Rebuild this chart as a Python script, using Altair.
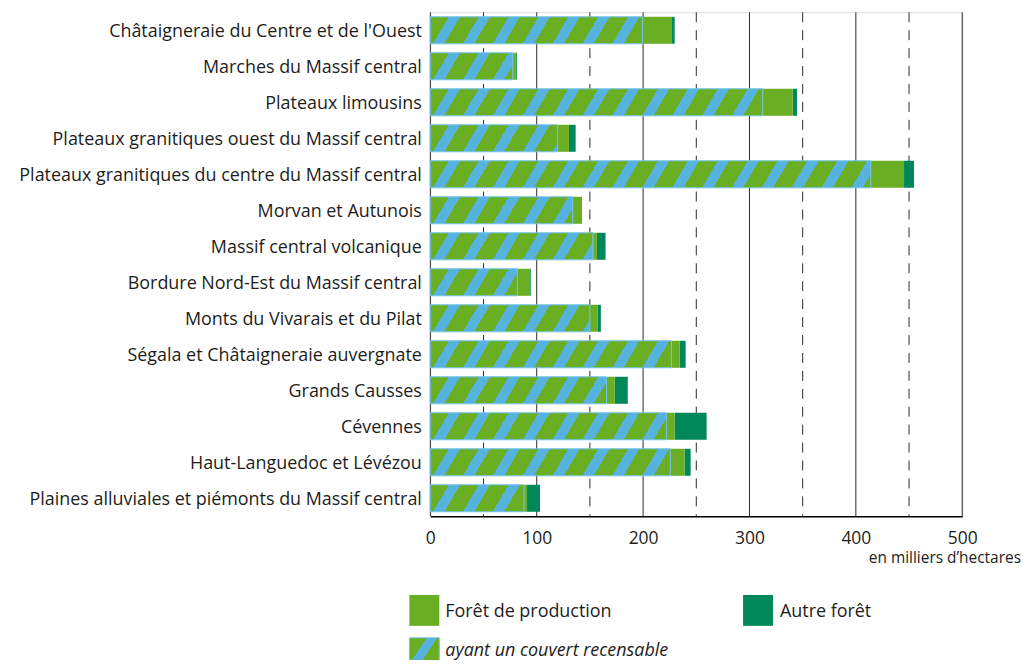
import altair as alt
import pandas as pd

regions = [
    "Châtaigneraie du Centre et de l'Ouest",
    "Marches du Massif central",
    "Plateaux limousins",
    "Plateaux granitiques ouest du Massif central",
    "Plateaux granitiques du centre du Massif central",
    "Morvan et Autunois",
    "Massif central volcanique",
    "Bordure Nord-Est du Massif central",
    "Monts du Vivarais et du Pilat",
    "Ségala et Châtaigneraie auvergnate",
    "Grands Causses",
    "Cévennes",
    "Haut-Languedoc et Lévézou",
    "Plaines alluviales et piémonts du Massif central",
]
# thousands of hectares
couvert_recensable = [199.4, 77.5, 312.5, 119.7, 414.0, 133.8, 152.8, 81.8, 150.0, 226.6, 165.6, 221.9, 225.6, 88.1]
foret_production = [227.2, 80.0, 340.6, 130.3, 445.3, 141.8, 156.6, 93.7, 157.5, 234.4, 173.4, 229.7, 239.0, 90.9]
autre_foret = [2.5, 1.3, 4.1, 6.3, 9.4, 0.7, 8.1, 0.7, 2.8, 5.6, 12.2, 30.0, 5.7, 12.2]

solid_grid = [0, 100, 200, 300, 400, 500]
dashed_grid = [50, 150, 250, 350, 450]
tick_values = [0, 100, 200, 300, 400, 500]

GREEN = "#6aae23"
BLUE = "#56b3e0"
DARK = "#00875a"
TEXT = "#1d1d1b"
FONT = "Open Sans"

PW = 534
PH = 506
PX_PER_UNIT = PW / 500.0
BAR_H = PH / 14 * 0.75

df = pd.DataFrame({
    "region": regions,
    "couvert": couvert_recensable,
    "prod": foret_production,
    "total": [p + a for p, a in zip(foret_production, autre_foret)],
})

xs = alt.Scale(domain=[0, 500], nice=False, zero=True)
xaxis = alt.Axis(values=tick_values, title=None, grid=False, ticks=False, labelPadding=13,
                 labelFontSize=17.5, labelColor=TEXT, domainColor="#000000", domainWidth=1.6,
                 labelFont=FONT, labelFlush=False)
ys = alt.Scale(domain=regions, paddingInner=0.25, paddingOuter=0.125)
yaxis = alt.Axis(title=None, ticks=False, domain=False, labelPadding=9, labelFontSize=18,
                 labelColor=TEXT, labelLimit=600, labelFont=FONT, labelOffset=1.5)


def X(field, **kw):
    return alt.X(field, type="quantitative", scale=xs, axis=xaxis, **kw)


def Y():
    return alt.Y("region:N", scale=ys, axis=yaxis)


def stripes(w_px, h_px, period=30.0, blue_frac=0.38, k=1.7):
    w_px = max(w_px, 1.0)
    dy = h_px / (w_px * k)
    norm = 1.0 + dy * dy
    tmax = (1.0 + dy) / norm
    x2, y2 = tmax, tmax * dy
    norm2 = x2 * x2 + y2 * y2
    dt = period / w_px * x2 / norm2
    stops = []
    t = 0.0
    while t < 1.0:
        g_end = min(t + dt * (1 - blue_frac), 1.0)
        b_end = min(t + dt, 1.0)
        stops += [{"offset": t, "color": GREEN}, {"offset": g_end, "color": GREEN}]
        if g_end < 1.0:
            stops += [{"offset": g_end, "color": BLUE}, {"offset": b_end, "color": BLUE}]
        t += dt
    return {"gradient": "linear", "x1": 0, "y1": 0, "x2": x2, "y2": y2, "stops": stops}


base = alt.Chart(df)

grid_solid = alt.Chart(pd.DataFrame({"v": solid_grid})).mark_rule(
    color="#2a2a2a", strokeWidth=1
).encode(x=X("v"))
grid_dash = alt.Chart(pd.DataFrame({"v": dashed_grid})).mark_rule(
    color="#2a2a2a", strokeWidth=1, strokeDash=[10, 8]
).encode(x=X("v"))

autre = base.mark_bar(color=DARK).encode(x=X("prod"), x2="total", y=Y())
prod = base.mark_bar(color=GREEN).encode(x=X("couvert"), x2="prod", y=Y())

hatch_layers = []
for r, c in zip(regions, couvert_recensable):
    hatch_layers.append(
        base.transform_filter(alt.FieldEqualPredicate(field="region", equal=r))
        .mark_bar(fill=stripes(c * PX_PER_UNIT, BAR_H), stroke="#74c3ea", strokeWidth=1)
        .encode(x=X("couvert"), y=Y())
    )

unit_text = alt.Chart(pd.DataFrame({"t": ["en milliers d’hectares"]})).mark_text(
    align="right", baseline="middle", fontSize=15.5, font=FONT, color=TEXT
).encode(text="t:N", x=alt.value(593), y=alt.value(548))

leg_sq1 = alt.Chart(pd.DataFrame({"k": [1]})).mark_rect(fill=GREEN).encode(
    x=alt.value(-21), x2=alt.value(9), y=alt.value(585), y2=alt.value(616))
leg_sq2 = alt.Chart(pd.DataFrame({"k": [1]})).mark_rect(fill=DARK).encode(
    x=alt.value(314), x2=alt.value(344), y=alt.value(585), y2=alt.value(616))
leg_sq3 = alt.Chart(pd.DataFrame({"k": [1]})).mark_rect(
    fill=stripes(30, 30, period=28, k=1.5), stroke="#74c3ea", strokeWidth=1
).encode(x=alt.value(-21), x2=alt.value(9), y=alt.value(628), y2=alt.value(658))

leg_t1 = alt.Chart(pd.DataFrame({"t": ["Forêt de production"]})).mark_text(
    align="left", baseline="middle", fontSize=18, font=FONT, color=TEXT
).encode(text="t:N", x=alt.value(15), y=alt.value(602))
leg_t2 = alt.Chart(pd.DataFrame({"t": ["Autre forêt"]})).mark_text(
    align="left", baseline="middle", fontSize=18, font=FONT, color=TEXT
).encode(text="t:N", x=alt.value(351), y=alt.value(602))
leg_t3 = alt.Chart(pd.DataFrame({"t": ["ayant un couvert recensable"]})).mark_text(
    align="left", baseline="middle", fontSize=18, font=FONT, fontStyle="italic", color=TEXT
).encode(text="t:N", x=alt.value(15), y=alt.value(641))

chart = alt.layer(
    grid_solid, grid_dash, autre, prod, *hatch_layers,
    unit_text, leg_sq1, leg_sq2, leg_sq3, leg_t1, leg_t2, leg_t3,
).properties(
    width=PW, height=PH,
    padding={"left": 424, "top": 3, "right": 59, "bottom": 143},
    autosize="none",
).configure_view(stroke=None).configure(font=FONT)

chart.save("out.html", embed_options={"renderer": "svg", "actions": False})
